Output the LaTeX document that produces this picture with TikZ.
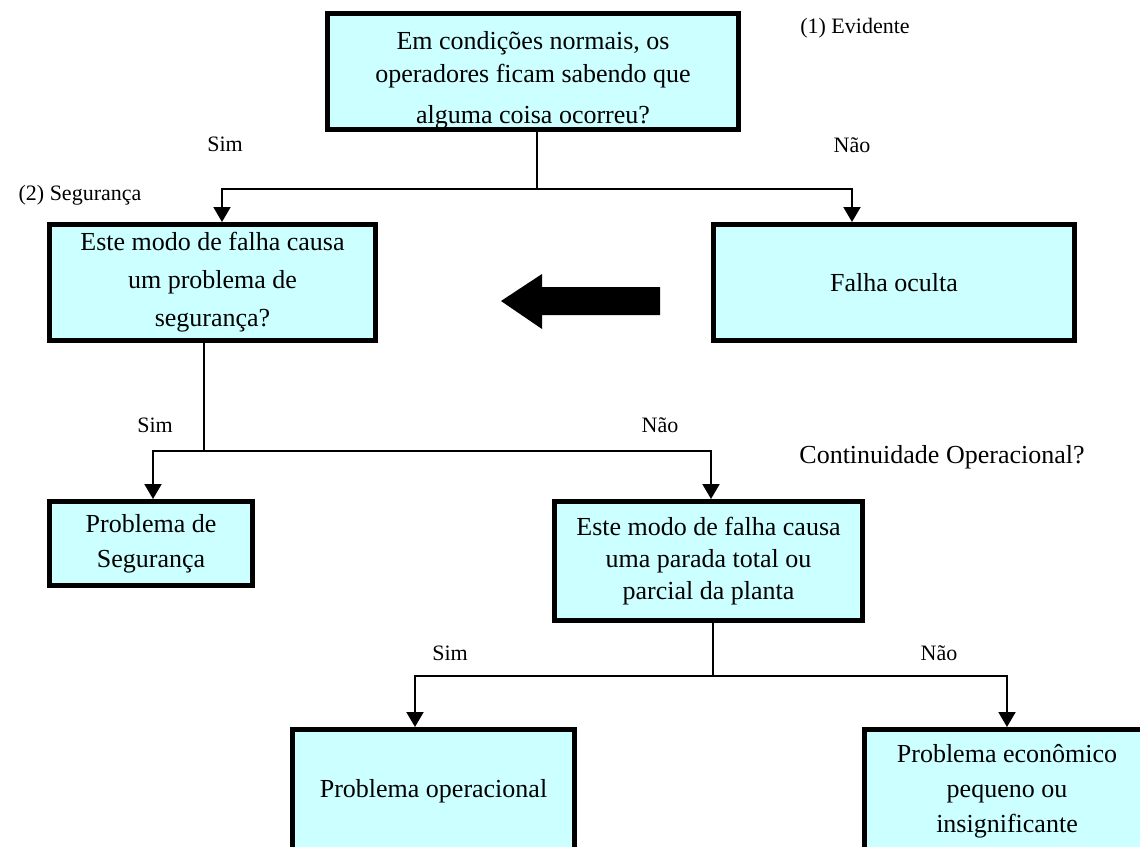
\documentclass[tikz,border=0pt]{standalone}
\usepackage{fontspec}
\setmainfont{Liberation Serif}
\usetikzlibrary{arrows.meta}

\definecolor{BoxCyan}{HTML}{CCFFFF}
\tikzstyle{question-box}=[draw=black, line width=5pt, fill=BoxCyan, align=center, inner sep=0pt, font=\fontsize{26}{35}\selectfont]
\tikzstyle{branch-label}=[inner sep=0pt, font=\fontsize{22}{26}\selectfont]
\tikzstyle{branch-line}=[line width=2pt]
\tikzstyle{branch-arrow}=[line width=2pt, -{Triangle[width=17pt,length=15pt]}]

\begin{document}
\begin{tikzpicture}[x=1pt, y=-1pt]
      \useasboundingbox (0,0) rectangle (1140,846);
      \clip (0,0) rectangle (1140,846);
      \fill[white] (0,0) rectangle (1140,846);

      \node (box-evident) at (533,71.5) [question-box, minimum width=411pt, minimum height=114pt, font=\fontsize{26}{33}\selectfont] {\rule{0pt}{36pt}Em condições normais, os\\operadores ficam sabendo que\\[8pt]alguma coisa ocorreu?};
      \node (box-safety) at (212.5,282.5) [question-box, minimum width=326pt, minimum height=116pt, font=\fontsize{26}{38}\selectfont] {Este modo de falha causa\\um problema de\\segurança?};
      \node (box-hidden) at (894,282.5) [question-box, minimum width=361pt, minimum height=116pt] {Falha oculta};
      \node (box-safety-issue) at (151,543.5) [question-box, minimum width=203pt, minimum height=84pt] {Problema de\\Segurança};
      \node (box-shutdown) at (708.5,561) [question-box, minimum width=308pt, minimum height=119pt, font=\fontsize{26}{32}\selectfont] {Este modo de falha causa\\uma parada total ou\\parcial da planta};
      \node (box-operational) at (433.5,791.5) [question-box, minimum width=282pt, minimum height=124pt] {Problema operacional};
      \node (box-economic) at (1007,791.5) [question-box, minimum width=285pt, minimum height=124pt] {Problema econômico\\pequeno ou\\insignificante};

      \node (label-evident) at (855,28) [branch-label] {(1) Evidente};
      \node (label-safety) at (80,195) [branch-label] {(2) Segurança};
      \node (label-yes-top) at (225,144) [branch-label] {Sim};
      \node (label-no-top) at (852,145) [branch-label] {Não};
      \node (label-yes-mid) at (155,425) [branch-label] {Sim};
      \node (label-no-mid) at (660,425) [branch-label] {Não};
      \node (label-continuity) at (942,457) [inner sep=0pt, font=\fontsize{26}{30}\selectfont] {Continuidade Operacional?};
      \node (label-yes-low) at (450,653) [branch-label] {Sim};
      \node (label-no-low) at (939,653) [branch-label] {Não};

      \coordinate (join-top) at (537,189);
      \coordinate (join-mid) at (204,451);
      \coordinate (join-low) at (713,676);

      \draw[branch-line] (box-evident.south -| join-top) -- (join-top);
      \draw[branch-arrow] (join-top) -| ([xshift=9.5pt]box-safety.north);
      \draw[branch-arrow] (join-top) -| ([xshift=-42pt]box-hidden.north);

      \draw[branch-line] (box-safety.south -| join-mid) -- (join-mid);
      \draw[branch-arrow] (join-mid) -| ([xshift=2pt]box-safety-issue.north);
      \draw[branch-arrow] (join-mid) -| ([xshift=2.5pt]box-shutdown.north);

      \draw[branch-line] (box-shutdown.south -| join-low) -- (join-low);
      \draw[branch-arrow] (join-low) -| ([xshift=-18.5pt]box-operational.north);
      \draw[branch-arrow] (join-low) -| ([xshift=0pt]box-economic.north);

      \fill[black] (660,287) -- (542,287) -- (542,274) -- (501,301) -- (542,329) -- (542,315) -- (660,315) -- cycle;
    \end{tikzpicture}
\end{document}
